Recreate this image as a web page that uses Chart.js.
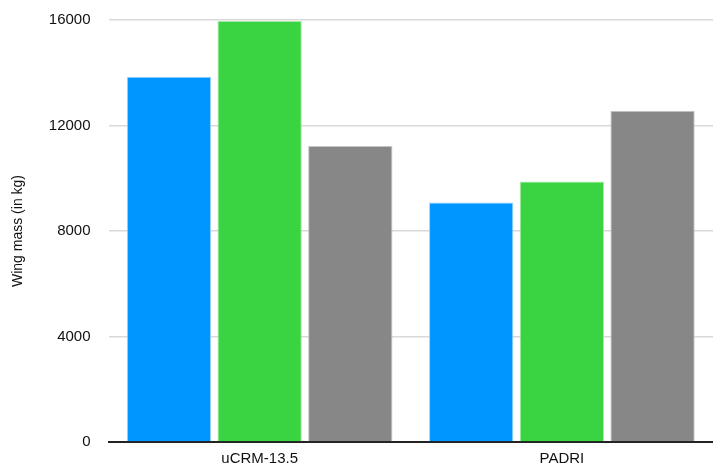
<!DOCTYPE html>
<html>
<head>
<meta charset="utf-8">
<script src="https://cdn.jsdelivr.net/npm/chart.js@4/dist/chart.umd.min.js"></script>
<style>
  html, body { margin: 0; padding: 0; background: #fff; }
  #wrap { width: 713px; height: 466px; }
</style>
</head>
<body>
<div id="wrap"><canvas id="chart-wing-mass"></canvas></div>
<script>
const categories = ['uCRM-13.5', 'PADRI'];
const blueValues = [13850, 9080];
const greenValues = [15960, 9880];
const grayValues = [11220, 12560];
const yTicks = [0, 4000, 8000, 12000, 16000];

document.addEventListener('DOMContentLoaded', function() {
  const ctx = document.getElementById('chart-wing-mass');
  new Chart(ctx, {
    type: 'bar',
    data: {
      labels: categories,
      datasets: [
        { label: 'Series 1', data: blueValues, backgroundColor: '#0096FF', borderColor: '#9fd3ff', borderWidth: 1 },
        { label: 'Series 2', data: greenValues, backgroundColor: '#3AD443', borderColor: '#a5eaa8', borderWidth: 1 },
        { label: 'Series 3', data: grayValues, backgroundColor: '#878787', borderColor: '#c4c4c4', borderWidth: 1 }
      ]
    },
    options: {
      responsive: true,
      maintainAspectRatio: false,
      animation: false,
      layout: { padding: { top: 20, right: 0, left: 10, bottom: -10 } },
      plugins: { legend: { display: false }, tooltip: { enabled: false } },
      datasets: { bar: { categoryPercentage: 0.9, barPercentage: 0.93 } },
      scales: {
        x: {
          grid: { display: false, drawTicks: false },
          border: { display: true, color: '#222', width: 2 },
          ticks: { color: '#111', font: { family: 'Liberation Sans, Arial', size: 15 }, padding: 8 }
        },
        y: {
          min: 0,
          max: 16000,
          afterBuildTicks: function(axis) { axis.ticks = yTicks.map(v => ({ value: v })); },
          grid: { color: '#d9d9d9', lineWidth: 1.5, drawTicks: true, tickLength: 16, tickColor: 'rgba(0,0,0,0)' },
          border: { display: false },
          ticks: {
            color: '#111',
            font: { family: 'Liberation Sans, Arial', size: 15 },
            padding: 2,
            callback: function(v) { return String(v); }
          },
          title: { display: true, text: 'Wing mass (in kg)', color: '#111', font: { family: 'Liberation Sans, Arial', size: 14 }, padding: { top: 0, bottom: 20 } }
        }
      }
    }
  });
});
</script>
</body>
</html>
